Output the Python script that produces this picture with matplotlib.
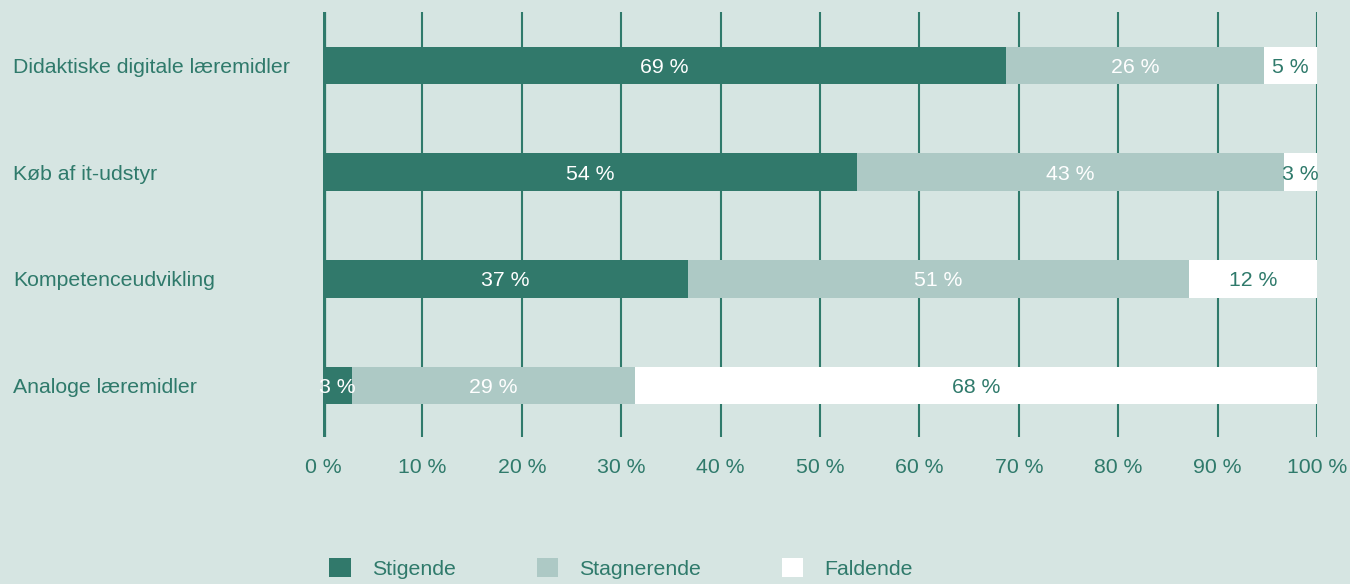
import matplotlib.pyplot as plt
from matplotlib.patches import Patch

# data (share of respondents)
categories = ['Didaktiske digitale læremidler', 'Køb af it-udstyr',
              'Kompetenceudvikling', 'Analoge læremidler']
series = ['Stigende', 'Stagnerende', 'Faldende']
stigende = [68.7, 53.7, 36.7, 2.9]
stagnerende = [26.0, 43.0, 50.4, 28.5]
faldende = [5.3, 3.3, 12.9, 68.6]
value_labels = [['69 %', '26 %', '5 %'],
                ['54 %', '43 %', '3 %'],
                ['37 %', '51 %', '12 %'],
                ['3 %', '29 %', '68 %']]
xticks = [0, 10, 20, 30, 40, 50, 60, 70, 80, 90, 100]

bg = '#d6e5e2'
teal = '#31796b'
light = '#adc9c5'
txt = '#2f7a6b'

plt.rcParams['font.family'] = ['Liberation Sans', 'DejaVu Sans']
fs = 15.3

fig = plt.figure(figsize=(13.5, 5.84), dpi=100, facecolor=bg)
ax = fig.add_axes([323 / 1350, 1 - 437 / 584, 994 / 1350, 425 / 584])
ax.set_facecolor(bg)

y = list(range(len(categories)))
colors = [teal, light, 'white']
left = [0] * len(categories)
for k, vals in enumerate([stigende, stagnerende, faldende]):
    ax.barh(y, vals, left=left, height=0.35, color=colors[k], zorder=2)
    for i, v in enumerate(vals):
        c = 'white' if k < 2 else txt
        ax.text(left[i] + v / 2, y[i], value_labels[i][k], ha='center',
                va='center_baseline', color=c, fontsize=fs, zorder=3)
    left = [a + b for a, b in zip(left, vals)]

ax.set_xlim(0, 100)
ax.set_ylim(3.48, -0.5)

for xv in xticks:
    ax.axvline(xv, color=txt, lw=4.5 if xv == 0 else 1.5, zorder=1)

ax.set_xticks(xticks)
ax.set_xticklabels([f'{v} %' for v in xticks], color=txt, fontsize=fs)
ax.tick_params(axis='x', length=0, pad=15)
ax.set_yticks(y)
ax.set_yticklabels(categories, color=txt, fontsize=fs, ha='left',
                   va='center_baseline')
ax.tick_params(axis='y', length=0, pad=(323 - 13) * 0.72)
for s in ax.spines.values():
    s.set_visible(False)

handles = [Patch(facecolor=c, edgecolor='none') for c in colors]
fig.legend(handles, series, loc='center', bbox_to_anchor=(0.46, 0.027), ncol=3,
           frameon=False, fontsize=fs, labelcolor=txt, handlelength=1.0,
           handleheight=1.0, handletextpad=1.0, columnspacing=3.8)

fig.savefig('out.png', dpi=100, facecolor=bg)
